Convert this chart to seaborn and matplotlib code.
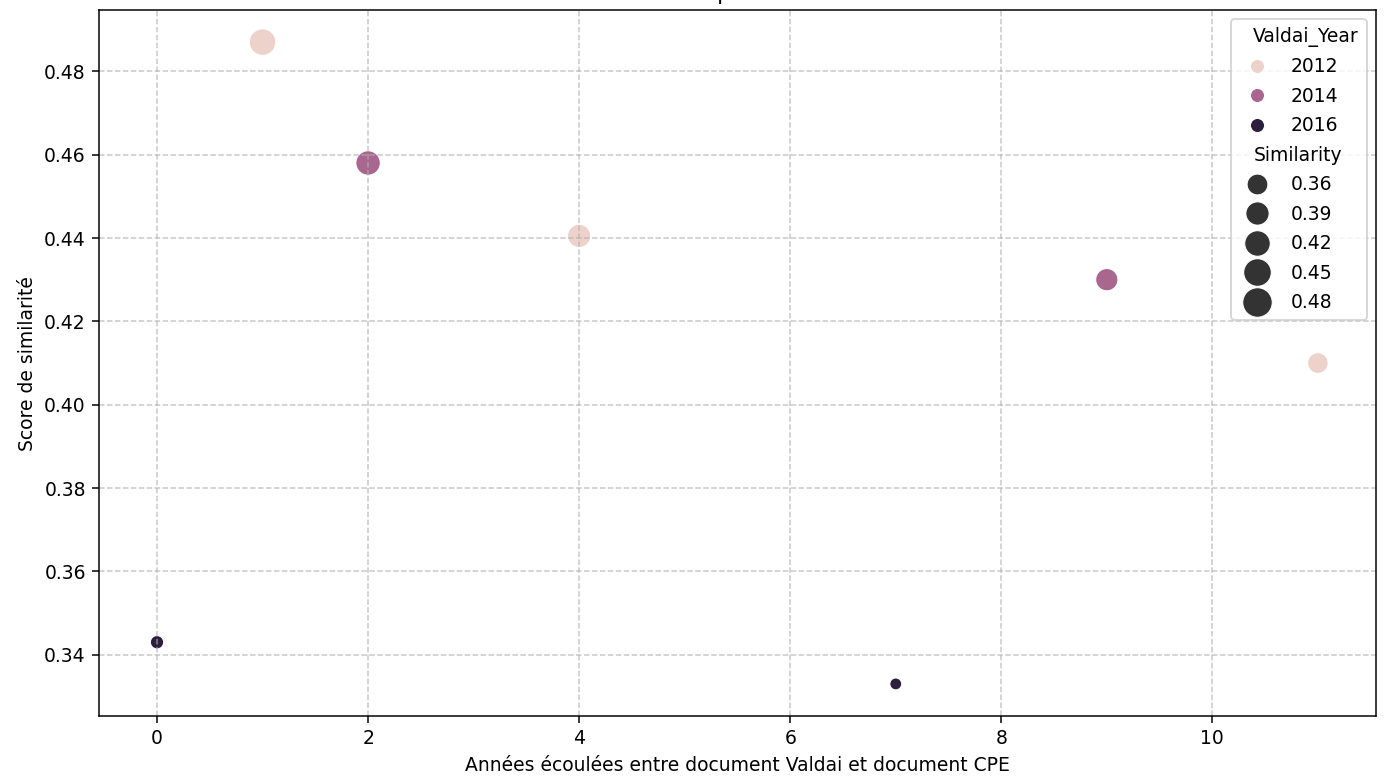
import numpy as np
import pandas as pd
import seaborn as sns
import matplotlib.pyplot as plt

# Values
years_elapsed = [0, 1, 2, 4, 7, 9, 11]
similarity = [0.343, 0.487, 0.458, 0.4405, 0.333, 0.430, 0.410]
valdai_year = [2016, 2012, 2014, 2012, 2016, 2014, 2012]


def build_frame():
    return pd.DataFrame({
        'Years_Elapsed': years_elapsed,
        'Similarity': similarity,
        'Valdai_Year': valdai_year,
    })


def tweak_legend(leg):
    # Bigger legend markers, as in the reference
    for handle, text in zip(leg.legend_handles, leg.texts):
        label = text.get_text()
        if label in ('Valdai_Year', 'Similarity'):
            continue
        if hasattr(handle, 'get_markersize'):
            ms = handle.get_markersize()
            if label.startswith('0.'):
                handle.set_markersize(np.sqrt(ms ** 2 + 55))
            else:
                handle.set_markersize(7.5)
        else:
            s = handle.get_sizes()
            if label.startswith('0.'):
                handle.set_sizes(s + 55)
            else:
                handle.set_sizes([56])

    # Subtitles start at the handle column (old seaborn look)
    for column in leg._legend_handle_box.get_children():
        for row in column.get_children():
            draw_area, text_area = row.get_children()
            label = text_area.get_children()[0].get_text()
            if label in ('Valdai_Year', 'Similarity'):
                draw_area.set_width(0)


def create_scatter(df, filename):
    fig, ax = plt.subplots(figsize=(10.34, 5.756), dpi=135)
    sns.scatterplot(data=df, x='Years_Elapsed', y='Similarity',
                    hue='Valdai_Year', size='Similarity',
                    sizes=(40, 200), ax=ax)

    ax.set_title("Relation entre l'écart temporel et le score de similarité")
    ax.set_xlabel("Années écoulées entre document Valdai et document CPE")
    ax.set_ylabel("Score de similarité")
    ax.grid(True, linestyle='--', alpha=0.7)
    sns.move_legend(ax, 'upper right', labelspacing=0.56)
    tweak_legend(ax.get_legend())

    fig.subplots_adjust(left=0.0709, right=0.9857, top=0.987, bottom=0.0785)
    fig.savefig(filename, dpi=135)


if __name__ == '__main__':
    df = build_frame()
    create_scatter(df, 'out.png')
